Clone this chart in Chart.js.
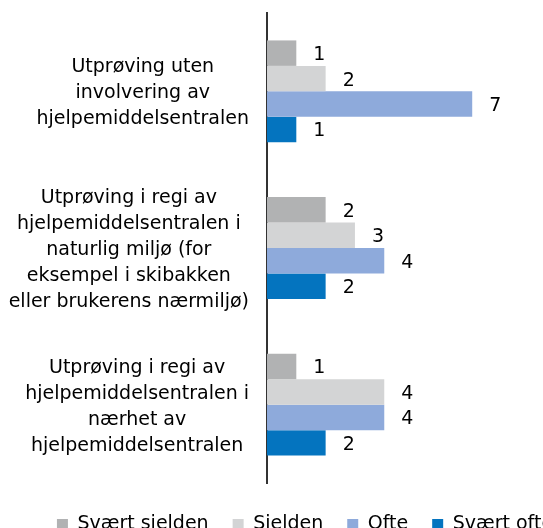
<!DOCTYPE html>
<html lang="no">
<head>
    <meta charset="UTF-8">
    <title>Utprøving</title>
    <style>
        html, body {
            margin: 0;
            padding: 0;
            background-color: #ffffff;
            overflow: hidden;
        }
        .wrap {
            width: 543px;
            height: 528px;
            overflow: hidden;
            position: relative;
        }
        .chart-box {
            position: absolute;
            left: 0;
            top: 0;
            width: 610px;
            height: 544px;
        }
    </style>
    <script src="https://cdn.jsdelivr.net/npm/chart.js"></script>
</head>
<body>
    <div class="wrap">
        <div class="chart-box">
            <canvas id="usageChart"></canvas>
        </div>
    </div>

    <script>
        // categories (one array of lines per label)
        const categories = [
            ['Utprøving uten', 'involvering av', 'hjelpemiddelsentralen'],
            ['Utprøving i regi av', 'hjelpemiddelsentralen i', 'naturlig miljø (for', 'eksempel i skibakken', 'eller brukerens nærmiljø)'],
            ['Utprøving i regi av', 'hjelpemiddelsentralen i', 'nærhet av', 'hjelpemiddelsentralen']
        ];

        const seriesNames = ['Svært sjelden', 'Sjelden', 'Ofte', 'Svært ofte'];
        const svaertSjelden = [1, 2, 1];
        const sjelden = [2, 3, 4];
        const ofte = [7, 4, 4];
        const svaertOfte = [1, 2, 2];

        const colors = ['#b1b2b3', '#d3d4d5', '#8eaadb', '#0474bf'];
        const fontFamily = "'DejaVu Sans', sans-serif";

        // value labels to the right of each bar
        const valueLabels = {
            id: 'valueLabels',
            afterDatasetsDraw(chart) {
                const ctx = chart.ctx;
                ctx.save();
                ctx.font = '19px ' + fontFamily;
                ctx.fillStyle = '#000000';
                ctx.textAlign = 'left';
                ctx.textBaseline = 'middle';
                chart.data.datasets.forEach((ds, i) => {
                    const meta = chart.getDatasetMeta(i);
                    meta.data.forEach((bar, j) => {
                        ctx.fillText(String(ds.data[j]), bar.x + 17, bar.y + 2);
                    });
                });
                ctx.restore();
            }
        };

        // multi-line category labels, each block centred on its own widest line
        const categoryLabels = {
            id: 'categoryLabels',
            afterDraw(chart) {
                const ctx = chart.ctx;
                const yScale = chart.scales.y;
                const lineH = 26;
                const right = chart.chartArea.left - 18;
                ctx.save();
                ctx.font = '19px ' + fontFamily;
                ctx.fillStyle = '#000000';
                ctx.textAlign = 'center';
                ctx.textBaseline = 'middle';
                categories.forEach((lines, i) => {
                    const yMid = yScale.getPixelForTick(i) + 2;
                    let widest = 0;
                    lines.forEach(t => { widest = Math.max(widest, ctx.measureText(t).width); });
                    const cx = right - widest / 2;
                    const y0 = yMid - (lines.length - 1) * lineH / 2;
                    lines.forEach((t, k) => ctx.fillText(t, cx, y0 + k * lineH));
                });
                ctx.restore();
            }
        };

        const ctx = document.getElementById('usageChart').getContext('2d');
        new Chart(ctx, {
            type: 'bar',
            data: {
                labels: categories,
                datasets: [
                    { label: seriesNames[0], data: svaertSjelden, backgroundColor: colors[0] },
                    { label: seriesNames[1], data: sjelden, backgroundColor: colors[1] },
                    { label: seriesNames[2], data: ofte, backgroundColor: colors[2] },
                    { label: seriesNames[3], data: svaertOfte, backgroundColor: colors[3] }
                ]
            },
            options: {
                indexAxis: 'y',
                responsive: true,
                maintainAspectRatio: false,
                animation: false,
                categoryPercentage: 0.65,
                barPercentage: 1.0,
                layout: {
                    padding: { top: 13, left: 0, right: 0, bottom: 0 }
                },
                scales: {
                    x: {
                        display: true,
                        min: 0,
                        max: 11.7,
                        grid: { display: false },
                        border: { display: false },
                        ticks: { display: false },
                        afterFit: (scale) => { scale.height = 8; }
                    },
                    y: {
                        grid: { display: false },
                        border: { display: true, color: '#333333', width: 2 },
                        ticks: { display: false },
                        afterFit: (scale) => { scale.width = 267; }
                    }
                },
                plugins: {
                    legend: {
                        position: 'bottom',
                        labels: {
                            boxWidth: 11,
                            boxHeight: 11,
                            padding: 24,
                            color: '#000000',
                            font: { family: fontFamily, size: 19 }
                        }
                    },
                    tooltip: { enabled: false }
                }
            },
            plugins: [valueLabels, categoryLabels]
        });
    </script>
</body>
</html>
